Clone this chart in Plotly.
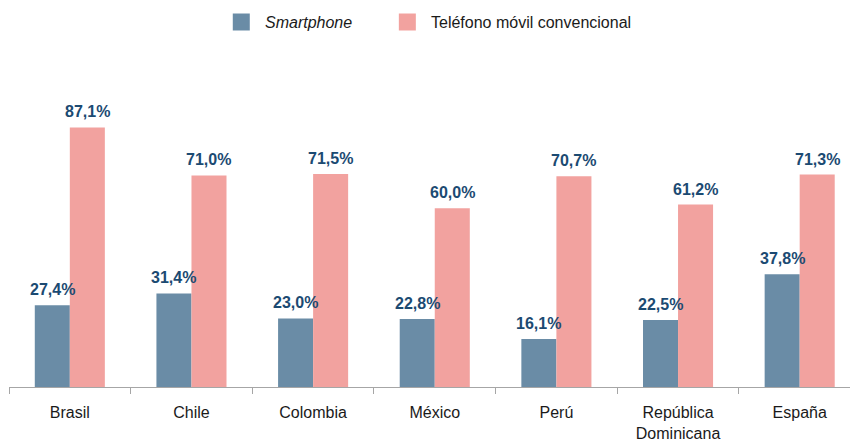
import plotly.graph_objects as go

# Datos: penetración por tipo de teléfono
paises = ["Brasil", "Chile", "Colombia", "México", "Perú", "República<br>Dominicana", "España"]
smartphone = [27.4, 31.4, 23.0, 22.8, 16.1, 22.5, 37.8]
convencional = [87.1, 71.0, 71.5, 60.0, 70.7, 61.2, 71.3]
series = ["Smartphone", "Teléfono móvil convencional"]

C_SMART = "#6a8ca6"
C_CONV = "#f2a29f"
C_LABEL = "#1b4a72"
FONT = "Arial, Liberation Sans, sans-serif"

W, H = 850, 441
ML, MR, MT, MB = 9.3, 0, 88.5, 54
plot_w = W - ML - MR
cat_px = 121.6
x_max = -0.5 + plot_w / cat_px

fig = go.Figure()
fig.add_bar(x=paises, y=smartphone, name=series[0], marker_color=C_SMART,
            marker_line_width=0, showlegend=False)
fig.add_bar(x=paises, y=convencional, name=series[1], marker_color=C_CONV,
            marker_line_width=0, showlegend=False)

# Etiquetas de valor sobre cada barra
bar_px = 35
annotations = []
for vals, shift in ((smartphone, -bar_px / 2), (convencional, bar_px / 2)):
    for p, v in zip(paises, vals):
        annotations.append(dict(
            x=p, y=v, xref="x", yref="y", xshift=shift, yshift=5,
            yanchor="bottom", showarrow=False,
            text=f"<b>{v:.1f}%</b>".replace(".", ","),
            font=dict(family=FONT, size=16, color=C_LABEL)))

# Leyenda dibujada a mano (cuadros de color + texto)
def px_x(x):
    return (x - ML) / plot_w

shapes = []
for x0, color, label in ((233, C_SMART, "<i>Smartphone</i>"),
                         (399, C_CONV, "Teléfono móvil convencional")):
    shapes.append(dict(type="rect", xref="paper", yref="paper",
                       xsizemode="pixel", ysizemode="pixel",
                       xanchor=px_x(x0), yanchor=1,
                       x0=0, x1=17, y0=MT - 30, y1=MT - 13,
                       fillcolor=color, line_width=0))
    annotations.append(dict(x=px_x(x0 + 30), y=1, xref="paper", yref="paper",
                            xanchor="left", yanchor="middle", yshift=MT - 22,
                            showarrow=False, text=label,
                            font=dict(family=FONT, size=16, color="#1a1a1a")))

fig.update_layout(
    width=W, height=H,
    margin=dict(l=ML, r=MR, t=MT, b=MB, pad=0, autoexpand=False),
    paper_bgcolor="white", plot_bgcolor="white",
    barmode="group", bargap=0.424, bargroupgap=0,
    annotations=annotations, shapes=shapes,
    font=dict(family=FONT, size=16, color="#1a1a1a"),
)
fig.update_xaxes(range=[-0.5, x_max], showline=True, linecolor="#a6a6a6", linewidth=1,
                 ticks="outside", tickson="boundaries", ticklen=6, tickcolor="#a6a6a6",
                 tickwidth=1, showgrid=False, zeroline=False, ticklabelstandoff=11,
                 automargin=False,
                 tickfont=dict(family=FONT, size=16, color="#1a1a1a"))
fig.update_yaxes(range=[0, 100], visible=False, showgrid=False, zeroline=False,
                 automargin=False)

fig.write_html("out.html")
